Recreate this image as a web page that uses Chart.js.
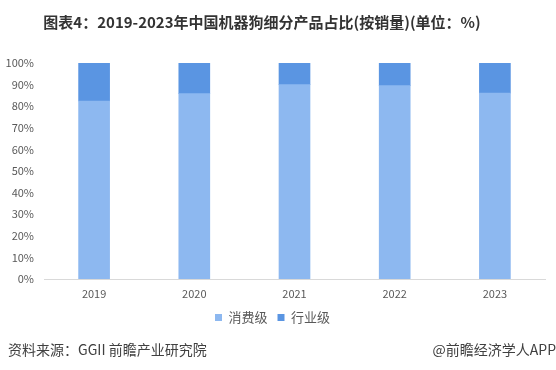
<!DOCTYPE html>
<html>
<head>
<meta charset="utf-8">
<script src="https://cdn.jsdelivr.net/npm/chart.js@4.4.1/dist/chart.umd.min.js"></script>
<style>
  html, body { margin: 0; padding: 0; background: #fff; }
  #wrap { position: relative; width: 556px; height: 370px; }
</style>
</head>
<body>
<div id="wrap"><canvas id="dogChart" width="556" height="370"></canvas></div>
<script>
// Data
const years = ['2019', '2020', '2021', '2022', '2023'];
const consumerShare = [82.4, 85.8, 90.0, 89.5, 86.1];   // 消费级
const industryShare = [17.6, 14.2, 10.0, 10.5, 13.9];   // 行业级
const yTicks = [0, 10, 20, 30, 40, 50, 60, 70, 80, 90, 100];

const cjkFont = '"Noto Sans CJK SC", "Microsoft YaHei", sans-serif';

// Title and source lines drawn on the canvas
const textPlugin = {
    id: 'pageText',
    afterDraw(chart) {
        const ctx = chart.ctx;
        ctx.save();
        ctx.fillStyle = '#333333';
        ctx.font = 'bold 15px ' + cjkFont;
        ctx.textAlign = 'center';
        ctx.textBaseline = 'middle';
        ctx.fillText('图表4：2019-2023年中国机器狗细分产品占比(按销量)(单位：%)', 262, 22);

        ctx.font = '14px ' + cjkFont;
        ctx.fillStyle = '#404040';
        ctx.textAlign = 'left';
        ctx.fillText('资料来源：GGII 前瞻产业研究院', 8, 350);
        ctx.textAlign = 'right';
        ctx.fillText('@前瞻经济学人APP', 556, 350);
        ctx.restore();
    }
};

new Chart(document.getElementById('dogChart').getContext('2d'), {
    type: 'bar',
    data: {
        labels: years,
        datasets: [
            {
                label: '消费级',
                data: consumerShare,
                backgroundColor: '#8db8f0',
                barThickness: 31
            },
            {
                label: '行业级',
                data: industryShare,
                backgroundColor: '#5a95e2',
                barThickness: 31
            }
        ]
    },
    options: {
        responsive: false,
        animation: false,
        layout: { padding: { top: 63, left: 0, right: 11, bottom: 36 } },
        plugins: {
            legend: {
                position: 'bottom',
                labels: {
                    boxWidth: 7,
                    boxHeight: 7,
                    padding: 10,
                    color: '#595959',
                    font: { family: cjkFont, size: 13 }
                }
            },
            tooltip: { enabled: false }
        },
        scales: {
            x: {
                stacked: true,
                grid: { display: false, drawTicks: false },
                border: { color: '#d9d9d9' },
                ticks: { color: '#595959', font: { family: cjkFont, size: 11 }, padding: 8 },
                afterFit(scale) { scale.height = 22; }
            },
            y: {
                stacked: true,
                min: 0,
                max: 100,
                grid: { display: false, drawTicks: false },
                border: { display: false },
                afterBuildTicks(scale) { scale.ticks = yTicks.map(v => ({ value: v })); },
                ticks: {
                    color: '#595959',
                    font: { family: cjkFont, size: 11 },
                    padding: 10,
                    callback: v => v + '%'
                },
                afterFit(scale) { scale.width = 44; }
            }
        }
    },
    plugins: [textPlugin]
});
</script>
</body>
</html>
